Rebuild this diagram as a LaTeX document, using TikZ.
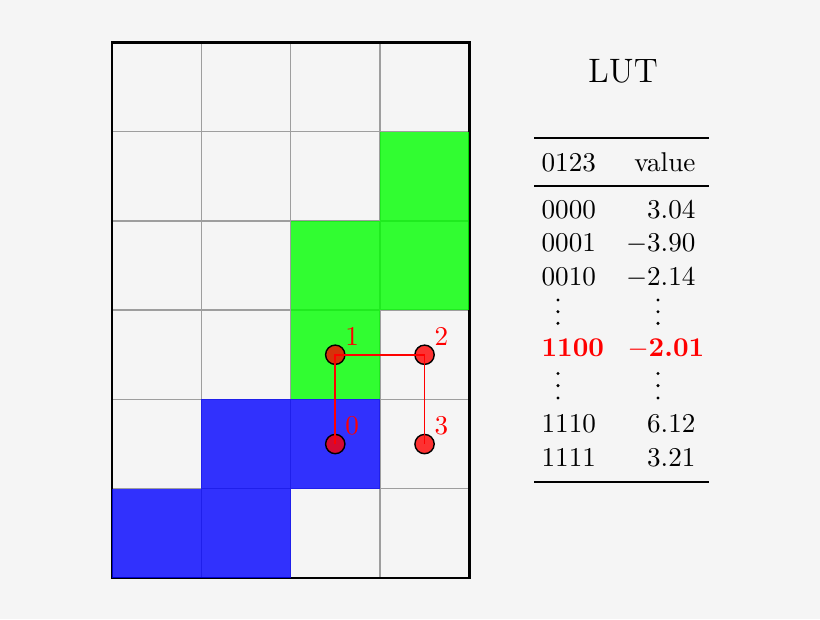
\documentclass[tikz,border=0pt]{standalone}
\usetikzlibrary{calc}
\newcommand{\shrinkt}[1]{\scalebox{0.865}{#1}}
\begin{document}
\begin{tikzpicture}[
  x=1cm,y=1cm,
  gridline/.style={draw=black!38, line width=0.45pt},
  frameline/.style={draw=black, line width=0.85pt},
  greencell/.style={fill=green, fill opacity=0.8},
  bluecell/.style={fill=blue, fill opacity=0.8},
  corner/.style={circle, draw=black, line width=0.45pt, fill=red, fill opacity=0.8, draw opacity=1, minimum size=0.216cm, inner sep=0pt},
  link/.style={draw=red, line width=0.5pt},
  cornerlabel/.style={text=red, font=\fontsize{10}{12}\selectfont, inner sep=0pt},
  tabtext/.style={font=\fontsize{10}{12}\selectfont, inner sep=0pt},
  hotrow/.style={tabtext, text=red, font=\fontsize{10}{12}\selectfont\bfseries},
  heavyrule/.style={draw=black, line width=0.9pt},
  lightrule/.style={draw=black, line width=0.55pt}
]
\definecolor{bg}{RGB}{245,245,245}
\fill[bg] (-1.2542,-0.4591) rectangle (7.9283,6.4726);
\useasboundingbox (-1.2542,-0.4591) rectangle (7.9283,6.4726);

% grid
\draw[gridline] (0,0) grid (4,6);
\draw[frameline] (0,0) rectangle (4,6);

% coloured cells
\fill[greencell] (3,4) rectangle (4,5);
\fill[greencell] (2,3) rectangle (4,4);
\fill[greencell] (2,2) rectangle (3,3);
\fill[bluecell] (1,1) rectangle (3,2);
\fill[bluecell] (0,0) rectangle (2,1);

% corner samples
\node[corner] (d0) at (2.5,1.5) {};
\node[corner] (d1) at (2.5,2.5) {};
\node[corner] (d2) at (3.5,2.5) {};
\node[corner] (d3) at (3.5,1.5) {};
\draw[link] (d0.center) -- (d1.center) -- (d2.center) -- (d3.center);
\node[cornerlabel] (l0) at ($(d0.center)+(0.19,0.21)$) {\shrinkt{0}};
\node[cornerlabel] (l1) at ($(d1.center)+(0.19,0.21)$) {\shrinkt{1}};
\node[cornerlabel] (l2) at ($(d2.center)+(0.19,0.21)$) {\shrinkt{2}};
\node[cornerlabel] (l3) at ($(d3.center)+(0.19,0.21)$) {\shrinkt{3}};

% LUT title
\node[font=\fontsize{12}{14}\selectfont, inner sep=0pt, anchor=base] (lut) at (5.722,5.554) {\scalebox{0.9}{LUT}};

% rules
\coordinate (tl) at (4.726,4.927); \coordinate (tr) at (6.685,4.927);
\coordinate (ml) at (4.726,4.390); \coordinate (mr) at (6.685,4.390);
\coordinate (bl) at (4.726,1.075); \coordinate (br) at (6.685,1.075);
\draw[heavyrule] (tl) -- (tr);
\draw[lightrule] (ml) -- (mr);
\draw[heavyrule] (bl) -- (br);

% header
\node[tabtext, anchor=base west] (h1) at (4.804,4.550) {\shrinkt{0123}};
\node[tabtext, anchor=base east] (h2) at (6.540,4.550) {\shrinkt{value}};

% rows
\node[tabtext, anchor=base west] (k1) at (4.804,4.031) {\shrinkt{0000}};
\node[tabtext, anchor=base east] (v1) at (6.540,4.031) {\shrinkt{3.04}};
\node[tabtext, anchor=base west] (k2) at (4.804,3.654) {\shrinkt{0001}};
\node[tabtext, anchor=base east] (v2) at (6.540,3.654) {\shrinkt{$-$3.90}};
\node[tabtext, anchor=base west] (k3) at (4.804,3.281) {\shrinkt{0010}};
\node[tabtext, anchor=base east] (v3) at (6.540,3.281) {\shrinkt{$-$2.14}};
\node[hotrow, anchor=base west] (k4) at (4.804,2.478) {\shrinkt{1100}};
\node[hotrow, anchor=base west] (v4) at (5.767,2.478) {\shrinkt{$-$2.01}};
\node[tabtext, anchor=base west] (k5) at (4.804,1.624) {\shrinkt{1110}};
\node[tabtext, anchor=base east] (v5) at (6.540,1.624) {\shrinkt{6.12}};
\node[tabtext, anchor=base west] (k6) at (4.804,1.254) {\shrinkt{1111}};
\node[tabtext, anchor=base east] (v6) at (6.540,1.254) {\shrinkt{3.21}};

% vertical ellipses
\foreach \yy in {3.113,2.982,2.852,2.290,2.154,2.016}{
  \fill (4.994,\yy) circle (0.019);
  \fill (6.114,\yy) circle (0.019);
}
\end{tikzpicture}
\end{document}
